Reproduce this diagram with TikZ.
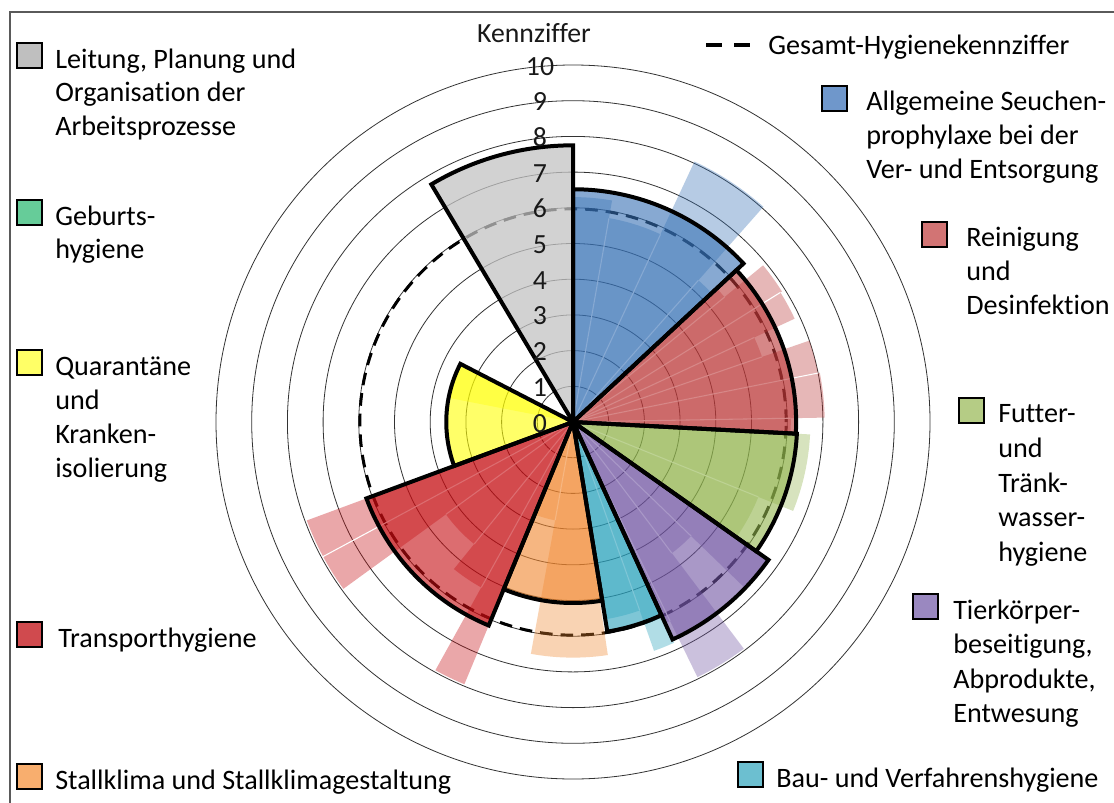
\documentclass[tikz,border=0pt]{standalone}
\usepackage{fontspec}
\setmainfont[Ligatures={NoCommon}]{Carlito}
\definecolor{cBlue}{HTML}{3771B5}
\definecolor{cRein}{HTML}{BC3838}
\definecolor{cFut}{HTML}{91B44C}
\definecolor{cPur}{HTML}{7054A2}
\definecolor{cTeal}{HTML}{28A1BC}
\definecolor{cOra}{HTML}{F1862D}
\definecolor{cTra}{HTML}{C50C11}
\definecolor{cYel}{HTML}{FFFF04}
\definecolor{cGray}{HTML}{C4C4C4}
\definecolor{lGray}{HTML}{BFBFBF}
\definecolor{lGeb}{HTML}{66CC99}
\definecolor{lYel}{HTML}{FFFF66}
\definecolor{lTra}{HTML}{D04A4E}
\definecolor{lOra}{HTML}{F8AE6E}
\definecolor{lBlue}{HTML}{6F97CB}
\definecolor{lRein}{HTML}{D27474}
\definecolor{lFut}{HTML}{B5CC85}
\definecolor{lPur}{HTML}{9A88C0}
\definecolor{lTeal}{HTML}{6CBFD0}
\definecolor{cFrame}{HTML}{5A5A5A}
\def\U{35.7}
\newcommand\subw[4]{\fill[#1,fill opacity=0.36] (0,0) -- ({90-#2}:{#4*\U}) arc[start angle={90-#2},end angle={90-#3},radius={#4*\U}] -- cycle;}
\newcommand\sepw[2]{\draw[white,line width=0.8pt] (0,0) -- ({90-#1}:{#2*\U});}
\newcommand\mainfill[4]{\fill[#1,fill opacity=0.6] (0,0) -- ({90-#2}:{#4*\U}) arc[start angle={90-#2},end angle={90-#3},radius={#4*\U}] -- cycle;}
\newcommand\mainline[3]{\draw[black,line width=3pt,line join=miter,miter limit=4] (0,0) -- ({90-#1}:{#3*\U}) arc[start angle={90-#1},end angle={90-#2},radius={#3*\U}] -- cycle;}
\tikzset{
  lbl/.style={anchor=base west,inner sep=0pt,font=\fontsize{21.1}{25}\selectfont,text=black},
  num/.style={anchor=base,inner sep=0pt,font=\fontsize{20.8}{25}\selectfont,text=black!90},
  lbox/.style={draw=black,line width=1.6pt},
  gridc/.style={black!80,line width=0.6pt},
  gesamt/.style={black,line width=2.2pt,dash pattern=on 9.5pt off 6pt},
}
\begin{document}
\begin{tikzpicture}[x=0.75pt,y=-0.75pt]
\useasboundingbox (0,0) rectangle (1114,803);
\fill[white] (0,0) rectangle (1114,803);
% frame
\draw[cFrame,line width=1.5pt] (10,803) -- (10,12) -- (1114,12);
% chart
\begin{scope}[shift={(573,422)},yscale=-1]
  \foreach \k in {1,...,10} \draw[gridc] (0,0) circle[radius={\k*\U}];
  \draw[gesamt] (0,0) circle[radius={5.97*\U}];
  % sub wedges
  \subw{cBlue}{0}{10}{6.3}
  \subw{cBlue}{10}{25}{5.8}
  \subw{cBlue}{25}{41.5}{8.05}
  \subw{cBlue}{41.5}{47.1}{5.3}
  \subw{cRein}{47.1}{50.5}{5.5}
  \subw{cRein}{50.5}{58}{6.9}
  \subw{cRein}{58}{65}{6.85}
  \subw{cRein}{65}{71}{5.6}
  \subw{cRein}{71}{78.7}{7.0}
  \subw{cRein}{78.7}{89}{7.05}
  \subw{cRein}{89}{93}{6.1}
  \subw{cFut}{93}{112}{6.65}
  \subw{cFut}{112}{125.2}{5.6}
  \subw{cPur}{125.2}{134}{6.7}
  \subw{cPur}{134}{143}{4.6}
  \subw{cPur}{143}{154}{7.95}
  \subw{cPur}{154}{155.4}{6.2}
  \subw{cTeal}{155.4}{160.5}{6.8}
  \subw{cTeal}{160.5}{170.7}{5.6}
  \subw{cOra}{171.5}{190.3}{6.6}
  \subw{cOra}{190.3}{202.5}{2.8}
  \subw{cTra}{202.5}{209}{7.95}
  \subw{cTra}{209}{219}{5.3}
  \subw{cTra}{219}{234}{4.4}
  \subw{cTra}{234}{241.7}{7.95}
  \subw{cTra}{241.7}{249.7}{7.95}
  \subw{cYel}{281}{297.3}{3.55}
  \subw{cGray}{329.2}{360}{7.75}
  % separators
  \sepw{10}{5.8}\sepw{25}{5.8}\sepw{41.5}{5.3}
  \sepw{50.5}{5.5}\sepw{58}{6.85}\sepw{65}{5.6}\sepw{71}{5.6}\sepw{78.7}{7.0}\sepw{89}{6.1}
  \sepw{112}{5.6}
  \sepw{134}{4.6}\sepw{143}{4.6}\sepw{154}{6.2}
  \sepw{160.5}{5.6}
  \sepw{190.3}{2.8}
  \sepw{209}{5.3}\sepw{219}{4.4}\sepw{234}{4.4}\sepw{241.7}{7.95}
  % main fills
  \mainfill{cBlue}{0}{47.1}{6.52}
  \mainfill{cRein}{47.1}{93}{6.25}
  \mainfill{cFut}{93}{125.2}{6.28}
  \mainfill{cPur}{125.2}{155.4}{6.7}
  \mainfill{cTeal}{155.4}{170.7}{5.95}
  \mainfill{cOra}{170.7}{202.5}{5.07}
  \mainfill{cTra}{202.5}{249.7}{6.17}
  \mainfill{cYel}{249.7}{297.3}{3.55}
  \mainfill{cGray}{329.2}{360}{7.75}
  % outlines
  \mainline{0}{47.1}{6.52}
  \mainline{47.1}{93}{6.25}
  \mainline{93}{125.2}{6.28}
  \mainline{125.2}{155.4}{6.7}
  \mainline{155.4}{170.7}{5.95}
  \mainline{170.7}{202.5}{5.07}
  \mainline{202.5}{249.7}{6.17}
  \mainline{249.7}{297.3}{3.55}
  \mainline{329.2}{360}{7.75}
\end{scope}
% axis numbers
\foreach \k in {0,...,10} \node[num] (n\k) at (540,{432-35.7*\k}) {\k};
\node[num] (kenn) at (534,42) {Kennziffer};
% legend left
\filldraw[lbox,fill=lGray] (17,43) rectangle (42,68);
\node[lbl] (leit1) at (55,68) {Leitung, Planung und};
\node[lbl] (leit2) at (55,101.5) {Organisation der};
\node[lbl] (leit3) at (55,135) {Arbeitsprozesse};
\filldraw[lbox,fill=lGeb] (17,200) rectangle (42,225);
\node[lbl] (geb1) at (55,225) {Geburts-};
\node[lbl] (geb2) at (55,258.5) {hygiene};
\filldraw[lbox,fill=lYel] (17,350) rectangle (42,375);
\node[lbl] (qua1) at (55,375) {Quarantäne};
\node[lbl] (qua2) at (55,409) {und};
\node[lbl] (qua3) at (55,443) {Kranken-};
\node[lbl] (qua4) at (55,477) {isolierung};
\filldraw[lbox,fill=lTra] (17,622) rectangle (42,647);
\node[lbl] (tra1) at (58,647) {Transporthygiene};
\filldraw[lbox,fill=lOra] (17,764) rectangle (42,789);
\node[lbl] (sta1) at (55,789) {Stallklima und Stallklimagestaltung};
% legend right
\coordinate (gs1) at (706,45);
\coordinate (gs2) at (750,45);
\draw[black,line width=2.4pt,dash pattern=on 12pt off 9pt] (gs1) -- (gs2);
\node[lbl] (ges) at (768,54) {Gesamt-Hygienekennziffer};
\filldraw[lbox,fill=lBlue] (822,86) rectangle (847,111);
\node[lbl] (all1) at (866,110) {Allgemeine Seuchen-};
\node[lbl] (all2) at (866,144) {prophylaxe bei der};
\node[lbl] (all3) at (866,178) {Ver- und Entsorgung};
\filldraw[lbox,fill=lRein] (922,222) rectangle (947,247);
\node[lbl] (rei1) at (966,246) {Reinigung};
\node[lbl] (rei2) at (966,280) {und};
\node[lbl] (rei3) at (966,314) {Desinfektion};
\filldraw[lbox,fill=lFut] (959,398) rectangle (984,423);
\node[lbl] (fut1) at (998,422) {Futter-};
\node[lbl] (fut2) at (998,457) {und};
\node[lbl] (fut3) at (998,492) {Tränk-};
\node[lbl] (fut4) at (998,526) {wasser-};
\node[lbl] (fut5) at (998,561) {hygiene};
\filldraw[lbox,fill=lPur] (913,594) rectangle (938,619);
\node[lbl] (tie1) at (953,619) {Tierkörper-};
\node[lbl] (tie2) at (953,653) {beseitigung,};
\node[lbl] (tie3) at (953,688) {Abprodukte,};
\node[lbl] (tie4) at (953,722) {Entwesung};
\filldraw[lbox,fill=lTeal] (738,762) rectangle (763,787);
\node[lbl] (bau1) at (776,787) {Bau- und Verfahrenshygiene};
\end{tikzpicture}
\end{document}
